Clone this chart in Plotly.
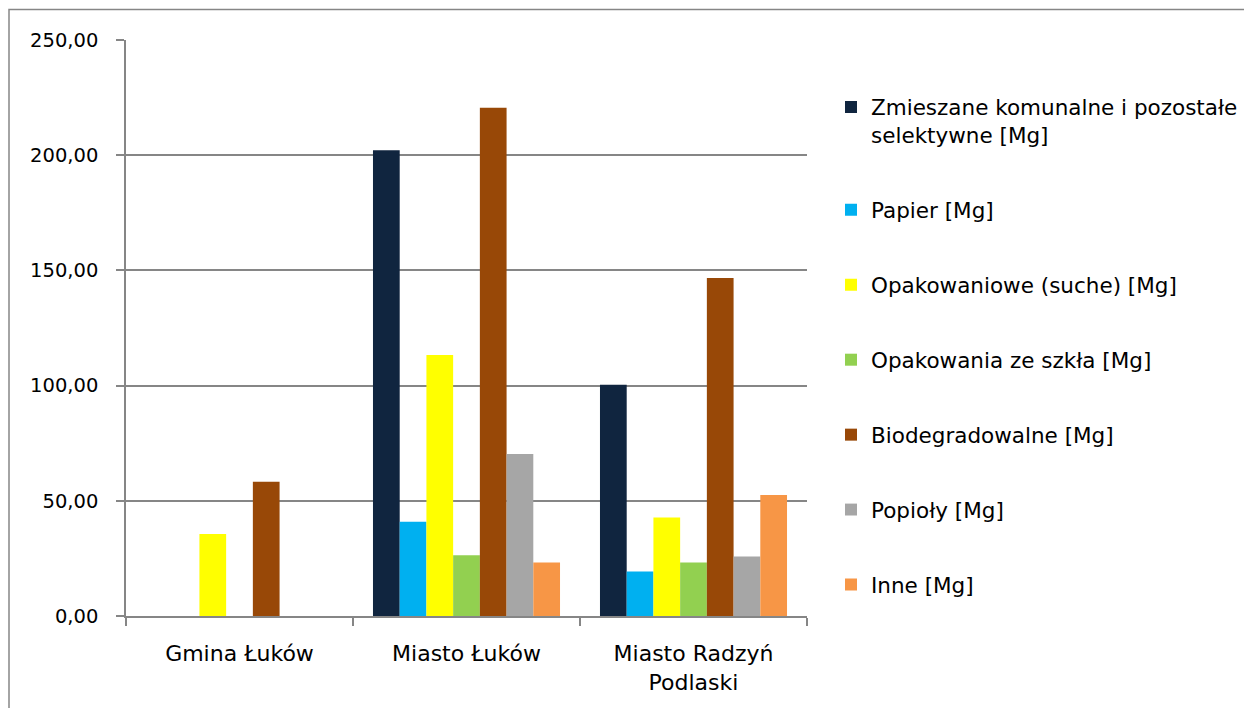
import plotly.graph_objects as go

categories = ["Gmina Łuków", "Miasto Łuków", "Miasto Radzyń<br>Podlaski"]
series_names = [
    "Zmieszane komunalne i pozostałe<br>selektywne [Mg]",
    "Papier [Mg]",
    "Opakowaniowe (suche) [Mg]",
    "Opakowania ze szkła [Mg]",
    "Biodegradowalne [Mg]",
    "Popioły [Mg]",
    "Inne [Mg]",
]
zmieszane = [0, 202.1, 100.4]
papier = [0, 40.9, 19.3]
opakowaniowe = [35.6, 113.3, 42.7]
szklo = [0, 26.4, 23.2]
bio = [58.3, 220.6, 146.7]
popioly = [0, 70.3, 25.8]
inne = [0, 23.2, 52.5]
series_values = [zmieszane, papier, opakowaniowe, szklo, bio, popioly, inne]
colors = ["#10253F", "#00B0F0", "#FFFF00", "#92D050", "#984807", "#A6A6A6", "#F79646"]
y_ticks = [0, 50, 100, 150, 200, 250]
y_tick_labels = ["0,00", "50,00", "100,00", "150,00", "200,00", "250,00"]

W, H = 1252, 708
OFF = 8  # page body margin
# plot area in screen pixels
SL, SR, ST, SB = 126, 807, 39.5, 616.5
L, R, T, B = SL - OFF, SR - OFF, ST - OFF, SB - OFF
FONT = "DejaVu Sans"

fig = go.Figure()
for i, (name, vals, col) in enumerate(zip(series_names, series_values, colors)):
    fig.add_trace(go.Bar(
        x=categories, y=vals, name=name, legendgroup=f"g{i}",
        marker=dict(color=col, line=dict(width=0)),
    ))

pw, ph = R - L, B - T


def px_x(sx):
    return (sx - SL) / pw


def px_y(sy):
    return (SB - sy) / ph


fig.add_shape(type="rect", xref="paper", yref="paper",
              x0=px_x(9), x1=px_x(1320),
              y0=px_y(780), y1=px_y(9),
              line=dict(color="#868686", width=1.5), fillcolor="rgba(0,0,0,0)", layer="below")

fig.update_layout(
    width=W, height=H,
    margin=dict(l=L, r=W - R, t=T, b=H - B, pad=0),
    paper_bgcolor="white", plot_bgcolor="white",
    barmode="group", bargap=0.176, bargroupgap=0,
    font=dict(family=FONT, size=20, color="#000000"),
    xaxis=dict(
        showline=True, linecolor="#868686", linewidth=1.5,
        ticks="outside", tickson="boundaries", ticklen=8, tickcolor="#868686", tickwidth=1.5,
        tickfont=dict(family=FONT, size=22), showgrid=False, ticklabelstandoff=17,
    ),
    yaxis=dict(
        range=[0, 250], tickvals=y_ticks, ticktext=y_tick_labels,
        showline=True, linecolor="#868686", linewidth=1.5,
        ticks="outside", ticklen=8, tickcolor="#868686", tickwidth=1.5,
        showgrid=True, gridcolor="#868686", gridwidth=1.5,
        zeroline=False, tickfont=dict(family=FONT, size=19.5), ticklabelstandoff=14,
    ),
    legend=dict(
        x=px_x(831), xanchor="left", y=px_y(86), yanchor="top",
        font=dict(family=FONT, size=21.5), tracegroupgap=44,
        traceorder="grouped", valign="top", itemwidth=30,
        bgcolor="rgba(0,0,0,0)",
    ),
)

fig.write_html("out.html")
